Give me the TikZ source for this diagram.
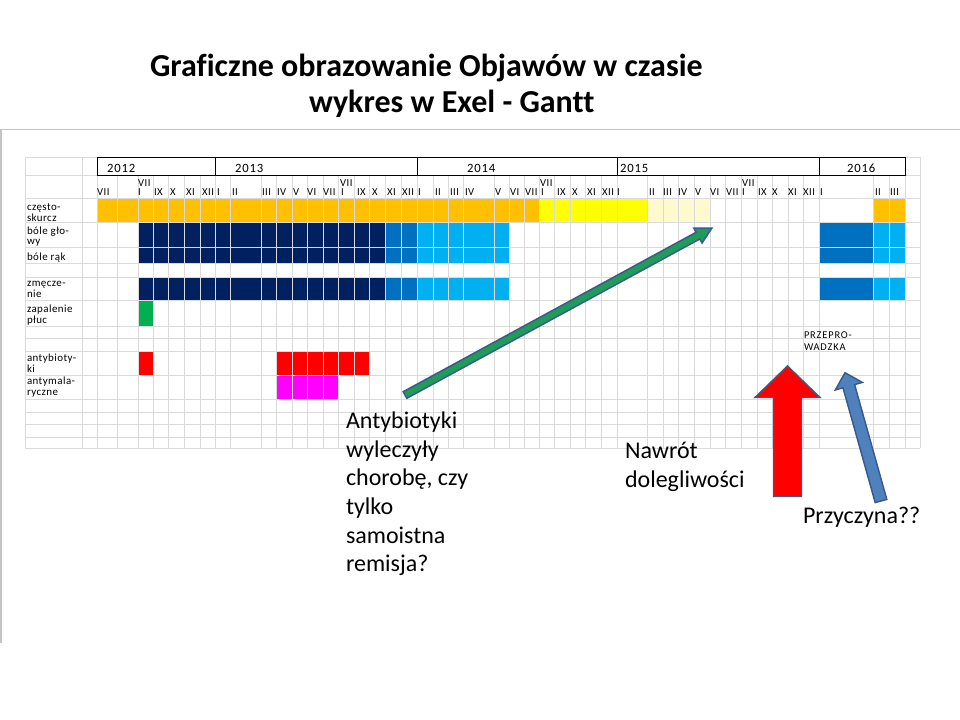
\documentclass[tikz,border=0pt]{standalone}
\usepackage{fontspec}
\setmainfont{Carlito}[Ligatures={TeX,NoCommon}]
\definecolor{cOrange}{HTML}{FFC000}
\definecolor{cYellow}{HTML}{FFFF00}
\definecolor{cLYellow}{HTML}{FFFACD}
\definecolor{cNavy}{HTML}{002060}
\definecolor{cMBlue}{HTML}{0070C0}
\definecolor{cLBlue}{HTML}{00B0F0}
\definecolor{cGreen}{HTML}{00B050}
\definecolor{cRed}{HTML}{FF0000}
\definecolor{cMagenta}{HTML}{FF00FF}
\definecolor{cGrid}{HTML}{DADADA}
\definecolor{cFrame}{HTML}{C4C4C4}
\definecolor{cOutline}{HTML}{3A5A8C}
\definecolor{cGArrow}{HTML}{1E9C58}
\definecolor{cBArrow}{HTML}{4F81BD}
\tikzset{
  gridline/.style={cGrid, line width=0.45pt},
  framerule/.style={cFrame, line width=1.2pt},
  yearbox/.style={draw=black, line width=0.7pt, fill=white},
  txt/.style={inner sep=0pt, outer sep=0pt, anchor=base west, align=left},
  rowlab/.style={txt, font=\fontsize{8.2}{8.2}\selectfont\addfontfeature{LetterSpace=4}},
  movelab/.style={txt, font=\fontsize{7.8}{8.8}\selectfont\addfontfeature{LetterSpace=8}},
  monlab/.style={txt, font=\fontsize{8}{8}\selectfont\addfontfeature{LetterSpace=5}},
  yearlab/.style={txt, font=\fontsize{9.5}{10}\selectfont\addfontfeature{LetterSpace=7}},
  anno/.style={txt, font=\fontsize{18}{21.5}\selectfont},
  titlab/.style={txt, font=\bfseries\fontsize{24}{28}\selectfont},
  blockarrow/.style={draw=cOutline, line width=1.1pt, line join=miter},
}
\begin{document}
\begin{tikzpicture}[x=0.75pt,y=-0.75pt]
\useasboundingbox (0,0) rectangle (960,720);
\fill[white] (0,0) rectangle (960,720);

% slide frame lines
\draw[framerule] (0,129.5) -- (960,129.5);
\draw[framerule] (1,129.5) -- (1,643);

% title
\node[titlab] (title1) at (150,77) {Graficzne obrazowanie Objawów w czasie};
\node[titlab] (title2) at (309,113) {wykres w Exel - Gantt};

% --- bars ---
% częstoskurcz
\fill[cOrange] (97,198) rectangle (539,222.5);
\fill[cYellow] (539,198) rectangle (647,222.5);
\fill[cLYellow] (647,198) rectangle (710,222.5);
\fill[cOrange] (873,198) rectangle (905,222.5);
% bóle głowy + bóle rąk
\fill[cNavy] (138,222.5) rectangle (385,263.5);
\fill[cMBlue] (385,222.5) rectangle (417,263.5);
\fill[cLBlue] (417,222.5) rectangle (509,263.5);
\fill[cMBlue] (819,222.5) rectangle (873,263.5);
\fill[cLBlue] (873,222.5) rectangle (905,263.5);
% zmęczenie
\fill[cNavy] (138,277) rectangle (385,300);
\fill[cMBlue] (385,277) rectangle (417,300);
\fill[cLBlue] (417,277) rectangle (509,300);
\fill[cMBlue] (819,277) rectangle (873,300);
\fill[cLBlue] (873,277) rectangle (905,300);
% zapalenie płuc
\fill[cGreen] (138,300) rectangle (153,326);
% antybiotyki
\fill[cRed] (138,351.5) rectangle (153,375);
\fill[cRed] (276,351.5) rectangle (369,375);
% antymalaryczne
\fill[cMagenta] (276,375) rectangle (338,399.5);

% --- grid ---
\foreach \gx in {25,82,97,117,138,153,168,184,200,215,230,261,276,292,307,323,338,354,369,385,401,417,433,448,463,494,509,524,539,554,570,585,601,617,647,663,678,694,710,725,741,757,772,788,803,819,873,889,905,920}
  \draw[gridline] (\gx,157) -- (\gx,448);
\foreach \gy in {157,175,198,222.5,247,263.5,277,300,326,338.5,351.5,375,399.5,412,424,437,448}
  \draw[gridline] (25,\gy) -- (920,\gy);

% year header boxes
\draw[yearbox] (97,157) rectangle (905,175);
\foreach \dx in {215,417,617,819}
  \draw[black, line width=0.7pt] (\dx,157) -- (\dx,175);
\foreach \yt/\yx [count=\i] in {2012/107,2013/235,2014/467,2015/620,2016/847}
  \node[yearlab] (yr\i) at (\yx,172.5) {\yt};

% month labels
\foreach \mt/\mx [count=\i] in {VII/97,I/138,IX/154,X/170,XI/186,XII/202,I/217,II/232,III/262,IV/277,V/293,VI/307,VII/323,I/341,IX/357,X/372,XI/387,XII/402,I/418,II/435,III/450,IV/465,V/495,VI/510,VII/525,I/541,IX/557,X/572,XI/587,XII/602,I/617,II/649,III/663,IV/678,V/695,VI/710,VII/726,I/742,IX/758,X/772,XI/788,XII/803,I/820,II/875,III/890}
  \node[monlab] (mb\i) at (\mx,196) {\mt};
\foreach \mx [count=\i] in {138,340,540,742}
  \node[monlab] (mt\i) at (\mx,187) {VII};

% row labels (node position = baseline of last line)
\node[rowlab] (r1) at (27,221.7) {często-\\skurcz};
\node[rowlab] (r2) at (27,245) {bóle gło-\\wy};
\node[rowlab] (r3) at (27,260.5) {bóle rąk};
\node[rowlab] (r4) at (27,297) {zmęcze-\\nie};
\node[rowlab] (r5) at (27,323) {zapalenie\\płuc};
\node[rowlab] (r6) at (27,372) {antybioty-\\ki};
\node[rowlab] (r7) at (27,395.5) {antymala-\\ryczne};

\node[movelab] (move) at (804,350) {PRZEPRO-\\WADZKA};

% annotations (node position = baseline of last line)
\node[anno] (q1) at (346,571.7) {Antybiotyki\\wyleczyły\\chorobę, czy\\tylko\\samoistna\\remisja?};
\node[anno] (q2) at (625,487) {Nawrót\\dolegliwości};
\node[anno] (q3) at (803,523.3) {Przyczyna??};

% green arrow (remission to relapse)
\draw[blockarrow, fill=cGArrow] (403.2,391.7) -- (696.1,232.3) -- (693.9,228.2) -- (712,228) -- (702.0,243.1) -- (699.8,239.0) -- (406.8,398.3) -- cycle;
% red up arrow
\draw[blockarrow, fill=cRed] (773.5,496.5) -- (773.5,397.5) -- (755,397.5) -- (787.5,366) -- (820,397.5) -- (801.5,397.5) -- (801.5,496.5) -- cycle;
% blue arrow
\draw[blockarrow, fill=cBArrow] (875.2,502.6) -- (843.0,387.8) -- (835.3,390.0) -- (845,372.7) -- (862.3,382.4) -- (854.6,384.6) -- (886.8,499.4) -- cycle;
\end{tikzpicture}
\end{document}
